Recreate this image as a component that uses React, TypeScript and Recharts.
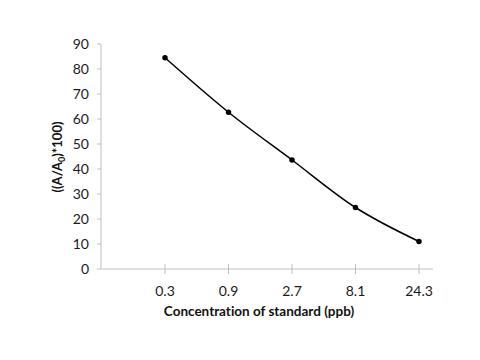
import { LineChart, Line, XAxis, YAxis } from "recharts";

// concentrations (x categories) and measured response
const concentrations = ["0.3", "0.9", "2.7", "8.1", "24.3"];
const responses = [84.5, 62.7, 43.6, 24.6, 11.0];
const yTicks = [0, 10, 20, 30, 40, 50, 60, 70, 80, 90];

const data = concentrations.map((c, i) => ({ conc: c, value: responses[i] }));

const FONT = "Lato, 'Open Sans', sans-serif";
const AXIS = "#bfbfbf";
const noLig = { fontVariantLigatures: "none" } as const;

// x ticks cross the axis line, like the Excel original
const CrossTick = (props: any) => {
  const { x, y, payload } = props;
  return (
    <g>
      <line x1={x} x2={x} y1={y - 5} y2={y + 5} stroke={AXIS} />
      <text x={x} y={y + 27} textAnchor="middle" fontSize={14} fontFamily={FONT} fill="#1a1a1a">
        {payload.value}
      </text>
    </g>
  );
};

const YTitle = () => (
  <text
    transform="translate(62,157) rotate(-90)"
    textAnchor="middle"
    fontSize={13}
    fontWeight="bold"
    fontFamily={FONT}
    fill="#111"
    style={noLig}
  >
    ((A/A
    <tspan fontSize={9} dy={3}>0</tspan>
    <tspan dy={-3}>)*100)</tspan>
  </text>
);

export default function App() {
  return (
    <div style={{ position: "absolute", left: 0, top: 0, background: "#fff" }}>
      <LineChart width={480} height={360} data={data} margin={{ top: 44, right: 47, left: 40, bottom: 61 }}>
        <XAxis
          dataKey="conc"
          padding={{ left: 64, right: 14 }}
          stroke={AXIS}
          tickLine={false}
          tickSize={0}
          tickMargin={0}
          tick={<CrossTick />}
          height={30}
          interval={0}
        />
        <YAxis
          domain={[0, 90]}
          ticks={yTicks}
          width={61}
          stroke={AXIS}
          tickSize={4}
          tickMargin={8}
          tick={{ fontSize: 14, fontFamily: FONT, fill: "#1a1a1a" }}
        />
        <Line
          type="monotone"
          dataKey="value"
          stroke="#000"
          strokeWidth={1.5}
          dot={{ r: 2, fill: "#000", stroke: "#000" }}
          isAnimationActive={false}
        />
        <YTitle />
        <text
          x={259}
          y={316}
          textAnchor="middle"
          fontSize={13.5}
          fontWeight="bold"
          fontFamily={FONT}
          fill="#111"
          style={noLig}
        >
          Concentration of standard (ppb)
        </text>
      </LineChart>
    </div>
  );
}
